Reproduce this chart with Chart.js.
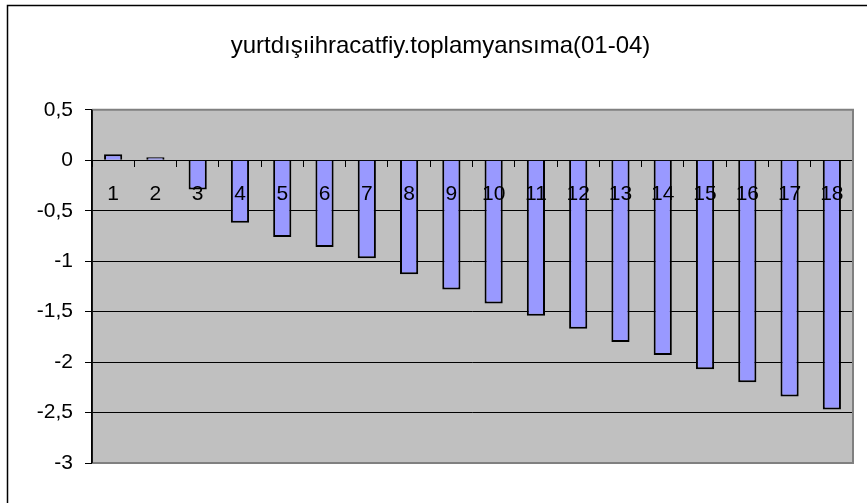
<!DOCTYPE html>
<html>
<head>
<meta charset="utf-8">
<script src="https://cdn.jsdelivr.net/npm/chart.js"></script>
<style>
  html, body { margin: 0; padding: 0; background: #fff; }
  #wrap { width: 867px; height: 503px; }
</style>
</head>
<body>
<div id="wrap"><canvas id="chart"></canvas></div>
<script>
// data
const chartTitle = 'yurtdışıihracatfiy.toplamyansıma(01-04)';
const categories = ['1','2','3','4','5','6','7','8','9','10','11','12','13','14','15','16','17','18'];
const values = [0.06, 0.03, -0.29, -0.62, -0.76, -0.86, -0.97, -1.13, -1.28, -1.42, -1.54, -1.67, -1.80, -1.93, -2.07, -2.20, -2.34, -2.47];
const yMin = -3;
const yMax = 0.5;
const yStep = 0.5;

const FONT = '"Liberation Sans", Arial, sans-serif';
Chart.defaults.font.family = FONT;
Chart.defaults.font.size = 21;
Chart.defaults.color = '#000';

// grey plot area + outer frame (top and left only are visible)
const frame = {
    id: 'frame',
    beforeDraw(chart) {
        const ctx = chart.ctx, a = chart.chartArea;
        ctx.save();
        ctx.fillStyle = '#fff';
        ctx.fillRect(0, 0, chart.width, chart.height);
        ctx.strokeStyle = '#000';
        ctx.lineWidth = 1.5;
        ctx.beginPath();
        ctx.moveTo(7.5, chart.height);
        ctx.lineTo(7.5, 5.5);
        ctx.lineTo(chart.width, 5.5);
        ctx.stroke();
        ctx.fillStyle = '#C0C0C0';
        ctx.fillRect(a.left, a.top, a.right - a.left, a.bottom - a.top);
        ctx.restore();
    },
    afterDraw(chart) {
        const ctx = chart.ctx, a = chart.chartArea;
        ctx.save();
        ctx.strokeStyle = '#808080';
        ctx.lineWidth = 2;
        ctx.beginPath();
        ctx.moveTo(a.left, a.top);
        ctx.lineTo(a.right, a.top);
        ctx.lineTo(a.right, a.bottom);
        ctx.lineTo(a.left, a.bottom);
        ctx.stroke();
        ctx.strokeStyle = '#000';
        ctx.lineWidth = 1.5;
        ctx.beginPath();
        ctx.moveTo(a.left, a.top);
        ctx.lineTo(a.left, a.bottom);
        ctx.stroke();
        ctx.restore();
    }
};

new Chart(document.getElementById('chart'), {
    type: 'bar',
    data: {
        labels: categories,
        datasets: [{
            data: values,
            backgroundColor: '#9999FF',
            borderColor: '#000',
            borderWidth: 2,
            categoryPercentage: 1,
            barPercentage: 0.43
        }]
    },
    options: {
        responsive: true,
        maintainAspectRatio: false,
        animation: false,
        // left padding is there to centre the title the way the original does
        layout: { padding: { left: 28, right: 14, top: 10, bottom: 40 } },
        plugins: {
            legend: { display: false },
            tooltip: { enabled: false },
            title: {
                display: true,
                text: chartTitle,
                color: '#000',
                font: { family: FONT, size: 24, weight: 'normal' },
                padding: { top: 22, bottom: 49 }
            }
        },
        scales: {
            x: {
                type: 'category',
                position: { y: 0 },
                offset: true,
                grid: {
                    display: true,
                    offset: true,
                    drawOnChartArea: false,
                    drawTicks: true,
                    tickLength: 6,
                    color: '#000',
                    lineWidth: 1
                },
                border: { display: true, color: '#000', width: 1 },
                ticks: {
                    z: 1,  // labels sit on top of the bars, like the original
                    color: '#000',
                    font: { size: 21 },
                    padding: 15,
                    maxRotation: 0,
                    autoSkip: false
                }
            },
            y: {
                min: yMin,
                max: yMax,
                afterFit(scale) { scale.width = 64; },
                grid: {
                    color: '#000',
                    lineWidth: 1,
                    drawTicks: true,
                    tickLength: 7
                },
                border: { display: true, color: '#000', width: 1.5 },
                ticks: {
                    stepSize: yStep,
                    color: '#000',
                    padding: 12,
                    font: { size: 21 },
                    callback: v => String(Math.round(v * 10) / 10).replace('.', ',')
                }
            }
        }
    },
    plugins: [frame]
});
</script>
</body>
</html>
